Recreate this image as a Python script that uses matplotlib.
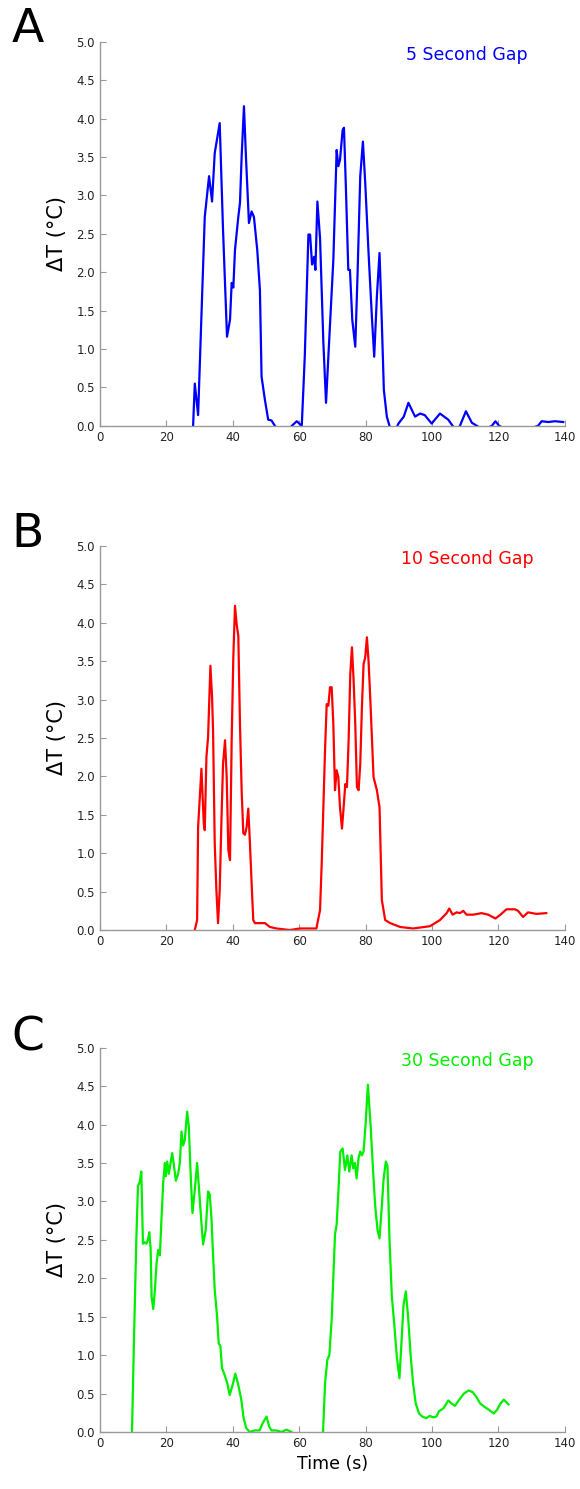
import numpy as np
import matplotlib.pyplot as plt

# panel A - 5 second gap
t_a = [28.0, 28.6, 29.6, 30.5, 31.6, 32.9, 33.8, 34.6, 36.1, 37.1, 38.3, 39.2, 39.7, 40.2, 40.7,
       41.7, 42.2, 42.7, 43.4, 44.0, 44.9, 45.7, 46.4, 47.4, 48.2, 48.7, 49.7, 50.7, 51.7, 52.7,
       55.0, 57.8, 59.3, 60.8, 61.7, 62.8, 63.3, 63.9, 64.5, 64.9, 65.5, 66.3, 67.3, 68.1, 68.8,
       70.3, 71.3, 71.8, 72.3, 73.1, 73.5, 74.1, 74.8, 75.3, 76.0, 76.9, 77.6, 78.4, 79.2, 79.9,
       80.9, 81.9, 82.6, 83.4, 84.2, 84.9, 85.5, 86.4, 87.2, 88.5, 89.9, 91.5, 92.9, 94.9, 96.4,
       97.8, 99.9, 102.4, 104.9, 106.2, 107.3, 108.4, 110.2, 112.0, 113.5, 115.5, 118.0, 119.1,
       120.2, 125.0, 131.9, 133.0, 135.0, 137.0, 139.5]
dt_a = [-0.1, 0.55, 0.14, 1.3, 2.72, 3.25, 2.92, 3.55, 3.94, 2.55, 1.16, 1.38, 1.86, 1.8, 2.29,
        2.72, 2.9, 3.5, 4.16, 3.5, 2.64, 2.79, 2.72, 2.29, 1.77, 0.64, 0.34, 0.08, 0.07, 0.0,
        -0.15, 0.0, 0.06, 0.0, 0.9, 2.49, 2.49, 2.1, 2.2, 2.03, 2.92, 2.44, 1.08, 0.3, 0.9,
        2.16, 3.59, 3.38, 3.46, 3.85, 3.88, 3.07, 2.03, 2.03, 1.38, 1.03, 1.99, 3.25, 3.7, 3.16,
        2.25, 1.42, 0.9, 1.68, 2.25, 1.34, 0.47, 0.12, 0.0, -0.1, 0.03, 0.12, 0.3, 0.12, 0.16,
        0.14, 0.03, 0.16, 0.08, 0.0, -0.05, 0.0, 0.19, 0.04, 0.0, -0.05, 0.0, 0.06,
        0.0, -0.1, 0.0, 0.06, 0.05, 0.06, 0.05]

# panel B - 10 second gap
t_b = [28.3, 28.6, 29.3, 29.6, 30.6, 31.3, 31.6, 32.1, 32.6, 33.3, 33.8, 34.1, 34.6, 35.1, 35.6,
       36.1, 36.6, 37.1, 37.7, 38.2, 38.7, 39.2, 39.7, 40.2, 40.7, 41.2, 41.7, 42.2, 42.7, 43.2,
       43.7, 44.2, 44.7, 45.2, 45.7, 46.2, 46.7, 48.2, 49.7, 51.2, 53.2, 57.2, 60.2, 65.2, 66.3,
       66.8, 67.3, 67.8, 68.3, 68.8, 69.3, 69.8, 70.3, 70.8, 71.3, 71.8, 72.3, 72.9, 73.4, 73.9,
       74.4, 74.9, 75.4, 75.9, 76.4, 76.9, 77.4, 77.9, 78.4, 78.9, 79.4, 79.9, 80.4, 80.9, 81.4,
       81.9, 82.4, 83.4, 84.2, 84.9, 85.9, 87.4, 90.4, 94.3, 99.4, 102.4, 104.4, 105.2, 106.2,
       107.4, 108.4, 109.4, 110.4, 112.4, 114.9, 116.9, 119.1, 120.6, 122.4, 124.9, 125.9,
       127.4, 128.9, 131.4, 134.4]
dt_b = [-0.1, 0.0, 0.13, 1.34, 2.1, 1.39, 1.30, 2.25, 2.51, 3.44, 3.03, 2.6, 1.13, 0.52, 0.09,
        0.52, 1.39, 2.16, 2.47, 1.99, 1.04, 0.91, 2.47, 3.55, 4.22, 3.98, 3.83, 2.68, 1.82, 1.26,
        1.24, 1.34, 1.58, 1.13, 0.61, 0.13, 0.09, 0.09, 0.09, 0.04, 0.02, 0.0, 0.02, 0.02, 0.26,
        0.87, 1.6, 2.34, 2.94, 2.92, 3.16, 3.16, 2.68, 1.82, 2.08, 1.99, 1.6, 1.32, 1.6, 1.9,
        1.86, 2.47, 3.33, 3.68, 3.25, 2.68, 1.86, 1.82, 2.16, 2.9, 3.46, 3.55, 3.81, 3.5, 3.03,
        2.51, 1.99, 1.82, 1.6, 0.39, 0.13, 0.09, 0.04, 0.02, 0.05, 0.13, 0.22, 0.28, 0.2,
        0.23, 0.22, 0.25, 0.2, 0.2, 0.22, 0.2, 0.15, 0.2, 0.27, 0.27, 0.25,
        0.17, 0.23, 0.21, 0.22]

# panel C - 30 second gap
t_c = [9.5, 9.7, 10.3, 11.0, 11.5, 12.0, 12.5, 13.0, 13.5, 14.0, 14.5, 14.9, 15.3, 15.6, 16.1,
       16.6, 17.1, 17.6, 18.1, 18.6, 19.1, 19.6, 19.9, 20.3, 20.8, 21.3, 21.8, 22.3, 22.9, 23.6,
       24.1, 24.6, 25.1, 25.6, 26.3, 26.8, 27.3, 27.9, 28.6, 29.3, 29.9, 30.6, 31.1, 31.9, 32.6,
       33.1, 33.6, 34.1, 34.6, 35.3, 35.8, 36.3, 36.8, 37.6, 38.4, 39.1, 40.1, 40.8, 41.6, 42.6,
       43.3, 44.1, 45.1, 46.6, 48.1, 49.1, 50.2, 51.0, 51.7, 53.2, 54.7, 56.2, 57.7, 62.0, 67.2,
       67.8, 68.5, 69.1, 69.8, 70.3, 70.8, 71.3, 71.9, 72.4, 73.1, 73.8, 74.5, 75.1, 75.8, 76.3,
       76.8, 77.3, 77.9, 78.4, 78.9, 79.4, 80.0, 80.7, 81.5, 82.3, 82.9, 83.6, 84.2, 84.9, 85.4,
       86.1, 86.6, 87.2, 87.9, 88.6, 89.4, 90.2, 90.7, 91.4, 92.1, 92.8, 93.6, 94.3, 95.1, 96.1,
       97.1, 98.3, 99.3, 100.3, 101.3, 102.1, 103.5, 104.9, 105.9, 106.9, 108.2, 109.6, 111.0,
       112.2, 113.3, 114.5, 115.7, 117.1, 118.6, 119.6, 120.6, 121.6, 123.0]
dt_c = [-0.1, 0.0, 1.2, 2.5, 3.2, 3.25, 3.39, 2.45, 2.47, 2.45, 2.5, 2.6, 2.4, 1.76, 1.6,
        1.85, 2.2, 2.37, 2.3, 2.8, 3.25, 3.5, 3.33, 3.52, 3.36, 3.5, 3.63, 3.48, 3.27, 3.36,
        3.5, 3.91, 3.73, 3.8, 4.17, 3.98, 3.41, 2.85, 3.15, 3.5, 3.15, 2.72, 2.44, 2.63, 3.13,
        3.09, 2.8, 2.3, 1.85, 1.51, 1.15, 1.12, 0.83, 0.74, 0.63, 0.48, 0.63, 0.76, 0.63, 0.42,
        0.18, 0.05, 0.0, 0.02, 0.02, 0.12, 0.2, 0.07, 0.02, 0.02, 0.0, 0.03, 0.0, -0.15, 0.0,
        0.63, 0.94, 1.0, 1.46, 2.0, 2.57, 2.7, 3.2, 3.65, 3.69, 3.41, 3.6, 3.39, 3.6, 3.43,
        3.5, 3.3, 3.57, 3.65, 3.6, 3.65, 4.0, 4.52, 4.0, 3.37, 2.94, 2.63, 2.52, 2.94, 3.28,
        3.52, 3.46, 2.5, 1.77, 1.42, 0.98, 0.7, 1.08, 1.64, 1.83, 1.5, 0.98, 0.63, 0.37, 0.24,
        0.2, 0.18, 0.21, 0.19, 0.2, 0.27, 0.31, 0.41, 0.37, 0.34, 0.42, 0.5, 0.54,
        0.52, 0.46, 0.37, 0.33, 0.29, 0.24, 0.29, 0.37, 0.42, 0.36]

series = [(t_a, dt_a, "#0000ff", "5 Second Gap", "A"),
          (t_b, dt_b, "#ff0000", "10 Second Gap", "B"),
          (t_c, dt_c, "#00ee00", "30 Second Gap", "C")]

fig = plt.figure(figsize=(5.8, 14.89), dpi=100)
bottoms = [0.714, 0.3754, 0.0383]
letter_y = [0.995, 0.656, 0.318]

for i, (t, dt, col, ttl, letter) in enumerate(series):
    ax = fig.add_axes([0.172, bottoms[i], 0.802, 0.258])
    ax.plot(t, dt, color=col, lw=1.6)
    ax.set_xlim(0, 140)
    ax.set_ylim(0, 5)
    ax.set_xticks(np.arange(0, 141, 20))
    ax.set_yticks(np.arange(0, 5.01, 0.5))
    ax.set_yticklabels(["%.1f" % v for v in np.arange(0, 5.01, 0.5)])
    for s in ["top", "right"]:
        ax.spines[s].set_visible(False)
    for s in ["left", "bottom"]:
        ax.spines[s].set_color("#999999")
        ax.spines[s].set_linewidth(1.0)
    ax.tick_params(direction="in", length=4, color="#999999", labelsize=8.5,
                   labelcolor="#222222")
    ax.set_ylabel("\u0394T (\u00b0C)", fontsize=15, labelpad=7)
    ax.text(0.79, 0.966, ttl, color=col, fontsize=12.5, ha="center", va="center",
            transform=ax.transAxes)
    fig.text(0.02, letter_y[i], letter, fontsize=34, ha="left", va="top")
    if i == 2:
        ax.set_xlabel("Time (s)", fontsize=12.5, labelpad=4)

fig.savefig("out.png", dpi=100)
